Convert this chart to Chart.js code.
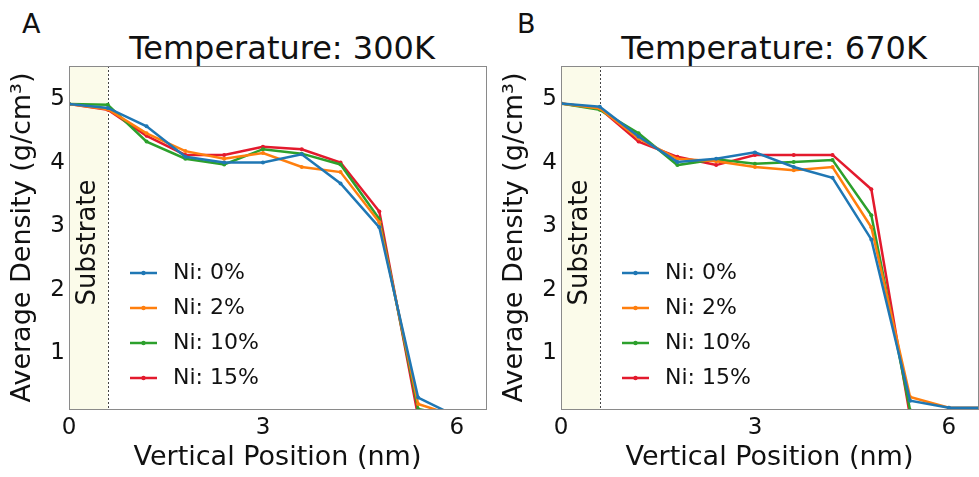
<!DOCTYPE html>
<html>
<head>
<meta charset="utf-8">
<script src="https://cdn.jsdelivr.net/npm/chart.js@4.4.0/dist/chart.umd.min.js"></script>
<style>
  html, body { margin: 0; padding: 0; background: #fff; overflow: hidden; }
  body { width: 979px; height: 477px; position: relative; font-family: 'DejaVu Sans', sans-serif; color: #111; }
  .panel { position: absolute; top: 0; width: 490px; height: 477px; }
  .tag { position: absolute; font-size: 27px; line-height: 27px; }
  .title { position: absolute; font-size: 32px; line-height: 32px; white-space: nowrap; transform: translateX(-50%); }
</style>
</head>
<body>
<div class="tag" style="left:22px; top:10px;">A</div>
<div class="tag" style="left:517px; top:10px;">B</div>
<div class="title" style="left:282px; top:32px;">Temperature: 300K</div>
<div class="title" style="left:774px; top:32px;">Temperature: 670K</div>
<div class="panel" style="left:0px;"><canvas id="chartA" width="490" height="477"></canvas></div>
<div class="panel" style="left:492px;"><canvas id="chartB" width="490" height="477"></canvas></div>
<script>
// vertical position of each sample (nm)
const positions = [0, 0.6, 1.2, 1.8, 2.4, 3.0, 3.6, 4.2, 4.8, 5.4, 6.0, 6.6];

const seriesLabels = ['Ni: 0%', 'Ni: 2%', 'Ni: 10%', 'Ni: 15%'];
const seriesColors = ['#1f77b4', '#ff7f0e', '#2ca02c', '#e31a2d'];

// 300K densities (g/cm3)
const ni0_300K  = [4.92, 4.86, 4.57, 4.09, 4.00, 4.00, 4.13, 3.67, 2.98, 0.30, 0.0, 0.0];
const ni2_300K  = [4.92, 4.84, 4.46, 4.18, 4.06, 4.15, 3.93, 3.85, 3.06, 0.20, 0.0, 0.0];
const ni10_300K = [4.92, 4.91, 4.33, 4.06, 3.97, 4.21, 4.14, 3.97, 3.11, 0.12, 0.0, 0.0];
const ni15_300K = [4.92, 4.83, 4.42, 4.12, 4.12, 4.25, 4.21, 4.00, 3.23, 0.0, 0.0, 0.0];

// 670K densities (g/cm3)
const ni0_670K  = [4.93, 4.88, 4.41, 4.01, 4.06, 4.16, 3.93, 3.76, 2.79, 0.25, 0.14, 0.14];
const ni2_670K  = [4.93, 4.85, 4.38, 4.06, 4.02, 3.93, 3.88, 3.93, 2.98, 0.31, 0.14, 0.14];
const ni10_670K = [4.93, 4.83, 4.46, 3.96, 4.05, 3.98, 4.01, 4.04, 3.17, 0.10, 0.0, 0.0];
const ni15_670K = [4.93, 4.85, 4.33, 4.09, 3.96, 4.12, 4.12, 4.12, 3.58, 0.0, 0.0, 0.0];

const xTicks = [0, 3, 6];
const yTicks = [1, 2, 3, 4, 5];
const substrateEnd = 0.6;

const FONT = 'DejaVu Sans';

// substrate band, dashed line, frame and legend
const decor = {
  id: 'decor',
  beforeDatasetsDraw(chart) {
    const { ctx, chartArea: a, scales: { x } } = chart;
    const xs = x.getPixelForValue(substrateEnd);
    ctx.save();
    ctx.fillStyle = 'rgba(238,238,160,0.22)';
    ctx.fillRect(a.left, a.top, xs - a.left, a.bottom - a.top);
    ctx.strokeStyle = '#444';
    ctx.lineWidth = 1;
    ctx.setLineDash([2, 2]);
    ctx.beginPath();
    ctx.moveTo(Math.round(xs) + 0.5, a.top);
    ctx.lineTo(Math.round(xs) + 0.5, a.bottom);
    ctx.stroke();
    ctx.setLineDash([]);
    ctx.translate((a.left + xs) / 2, (a.top + a.bottom) / 2 + 5);
    ctx.rotate(-Math.PI / 2);
    ctx.font = '26px "' + FONT + '"';
    ctx.textAlign = 'center';
    ctx.textBaseline = 'middle';
    ctx.fillStyle = '#111';
    ctx.fillText('Substrate', 0, 0);
    ctx.restore();
  },
  afterDatasetsDraw(chart) {
    const { ctx, chartArea: a } = chart;
    ctx.save();
    ctx.strokeStyle = '#8a8a8a';
    ctx.lineWidth = 1;
    ctx.strokeRect(Math.round(a.left) + 0.5, Math.round(a.top) + 0.5,
      Math.round(a.right - a.left), Math.round(a.bottom - a.top));
    ctx.font = '22px "' + FONT + '"';
    ctx.textBaseline = 'middle';
    chart.data.datasets.forEach((ds, i) => {
      const y = a.bottom - 136 + i * 35;
      ctx.strokeStyle = ds.borderColor;
      ctx.lineWidth = 2.5;
      ctx.beginPath();
      ctx.moveTo(a.left + 61, y);
      ctx.lineTo(a.left + 88, y);
      ctx.stroke();
      ctx.fillStyle = ds.borderColor;
      ctx.beginPath();
      ctx.arc(a.left + 74.5, y, 2.2, 0, Math.PI * 2);
      ctx.fill();
      ctx.fillStyle = '#111';
      ctx.fillText(ds.label, a.left + 104, y);
    });
    ctx.restore();
  }
};

function makeChart(id, series) {
  const datasets = series.map((vals, i) => ({
    label: seriesLabels[i],
    data: positions.map((p, j) => ({ x: p, y: vals[j] })),
    borderColor: seriesColors[i],
    backgroundColor: seriesColors[i],
    borderWidth: 2.5,
    pointRadius: 2,
    pointBorderWidth: 0,
    tension: 0,
    clip: 0
  }));

  return new Chart(document.getElementById(id), {
    type: 'line',
    data: { datasets },
    plugins: [decor],
    options: {
      responsive: false,
      animation: false,
      devicePixelRatio: 1,
      layout: { padding: { top: 66, right: 2, left: 0, bottom: 0 } },
      plugins: { legend: { display: false }, tooltip: { enabled: false } },
      scales: {
        x: {
          type: 'linear',
          min: 0,
          max: 6.45,
          afterBuildTicks: s => { s.ticks = xTicks.map(v => ({ value: v })); },
          afterFit: s => { s.height = 68; },
          grid: { display: false, drawTicks: false },
          border: { display: false },
          ticks: { font: { family: FONT, size: 23 }, color: '#111', padding: 5, maxRotation: 0 },
          title: {
            display: true,
            text: 'Vertical Position (nm)',
            font: { family: FONT, size: 27 },
            color: '#111',
            padding: { top: 0, bottom: 3 }
          }
        },
        y: {
          type: 'linear',
          min: 0.12,
          max: 5.52,
          afterBuildTicks: s => { s.ticks = yTicks.map(v => ({ value: v })); },
          afterFit: s => { s.width = 69; },
          grid: { display: false, drawTicks: false },
          border: { display: false },
          ticks: { font: { family: FONT, size: 23 }, color: '#111', padding: 4 },
          title: {
            display: true,
            text: 'Average Density (g/cm³)',
            font: { family: FONT, size: 27 },
            color: '#111',
            padding: { top: 7, bottom: 0 }
          }
        }
      }
    }
  });
}

makeChart('chartA', [ni0_300K, ni2_300K, ni10_300K, ni15_300K]);
makeChart('chartB', [ni0_670K, ni2_670K, ni10_670K, ni15_670K]);
</script>
</body>
</html>
